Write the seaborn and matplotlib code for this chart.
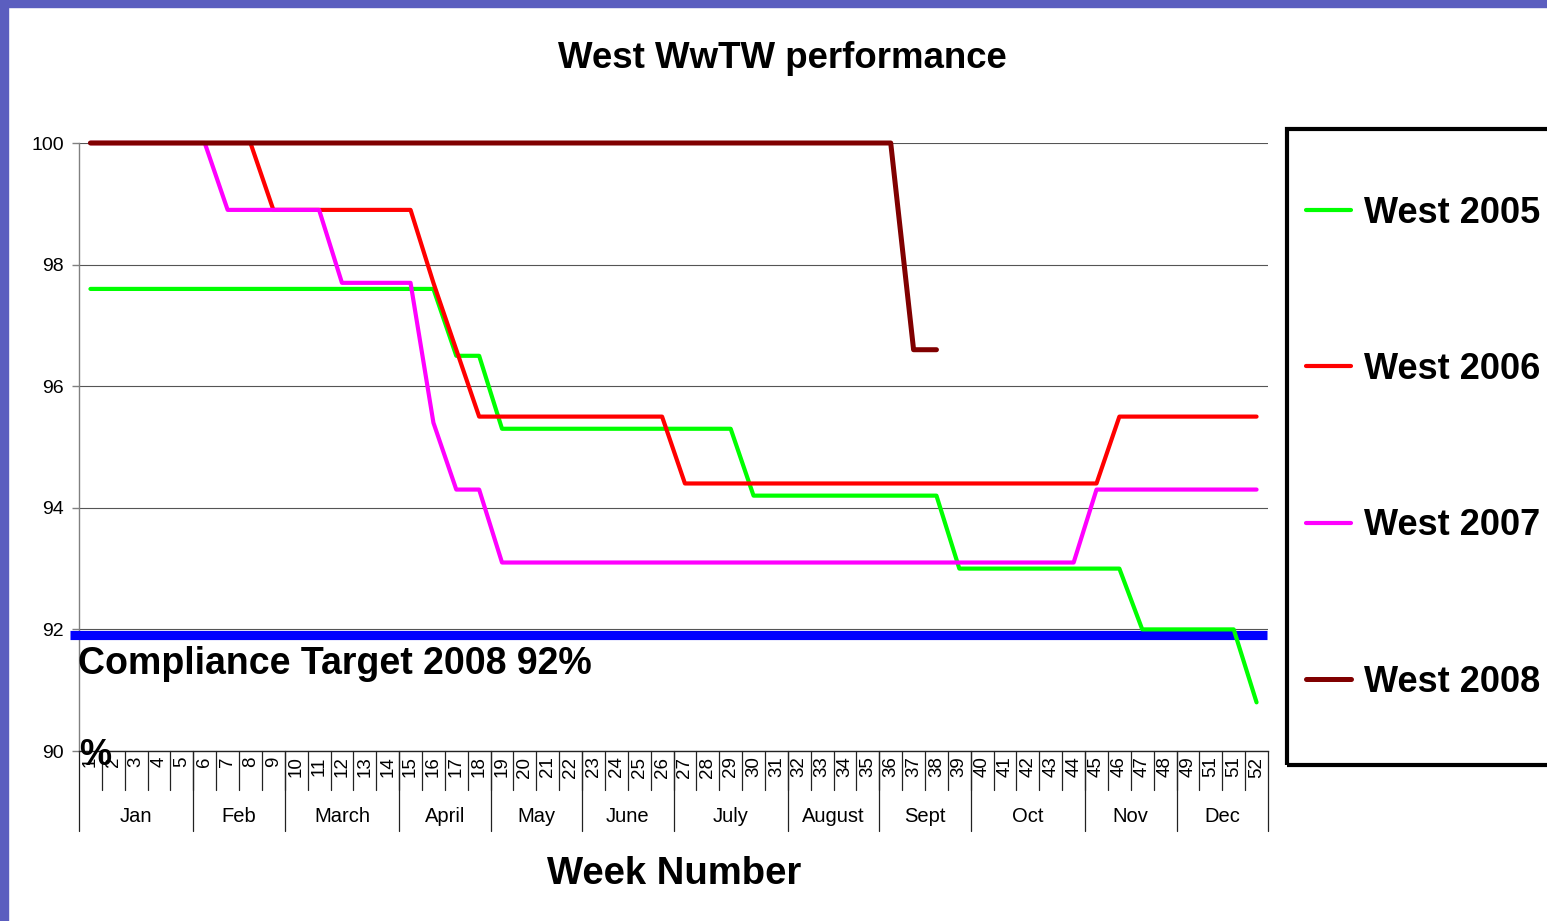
import numpy as np
import pandas as pd
import matplotlib
matplotlib.use("Agg")
import matplotlib.pyplot as plt
import matplotlib.transforms as mtransforms
from matplotlib.patches import Rectangle
import seaborn as sns

# ---------------- data ----------------
weeks = list(range(1, 53))
week_labels = ["1", "2", "3", "4", "5", "6", "7", "8", "9", "10", "11", "12", "13",
               "14", "15", "16", "17", "18", "19", "20", "21", "22", "23", "24", "25",
               "26", "27", "28", "29", "30", "31", "32", "33", "34", "35", "36", "37",
               "38", "39", "40", "41", "42", "43", "44", "45", "46", "47", "48", "49",
               "51", "51", "52"]
months = ["Jan", "Feb", "March", "April", "May", "June", "July", "August",
          "Sept", "Oct", "Nov", "Dec"]
month_weeks = [5, 4, 5, 4, 4, 4, 5, 4, 4, 5, 4, 4]

west_2005 = [97.6, 97.6, 97.6, 97.6, 97.6, 97.6, 97.6, 97.6, 97.6, 97.6, 97.6, 97.6, 97.6,
             97.6, 97.6, 97.6, 96.5, 96.5, 95.3, 95.3, 95.3, 95.3, 95.3, 95.3, 95.3, 95.3,
             95.3, 95.3, 95.3, 94.2, 94.2, 94.2, 94.2, 94.2, 94.2, 94.2, 94.2, 94.2, 93.0,
             93.0, 93.0, 93.0, 93.0, 93.0, 93.0, 93.0, 92.0, 92.0, 92.0, 92.0, 92.0, 90.8]
west_2006 = [100, 100, 100, 100, 100, 100, 100, 100, 98.9, 98.9, 98.9, 98.9, 98.9,
             98.9, 98.9, 97.7, 96.6, 95.5, 95.5, 95.5, 95.5, 95.5, 95.5, 95.5, 95.5, 95.5,
             94.4, 94.4, 94.4, 94.4, 94.4, 94.4, 94.4, 94.4, 94.4, 94.4, 94.4, 94.4, 94.4,
             94.4, 94.4, 94.4, 94.4, 94.4, 94.4, 95.5, 95.5, 95.5, 95.5, 95.5, 95.5, 95.5]
west_2007 = [100, 100, 100, 100, 100, 100, 98.9, 98.9, 98.9, 98.9, 98.9, 97.7, 97.7,
             97.7, 97.7, 95.4, 94.3, 94.3, 93.1, 93.1, 93.1, 93.1, 93.1, 93.1, 93.1, 93.1,
             93.1, 93.1, 93.1, 93.1, 93.1, 93.1, 93.1, 93.1, 93.1, 93.1, 93.1, 93.1, 93.1,
             93.1, 93.1, 93.1, 93.1, 93.1, 94.3, 94.3, 94.3, 94.3, 94.3, 94.3, 94.3, 94.3]
west_2008 = [100, 100, 100, 100, 100, 100, 100, 100, 100, 100, 100, 100, 100,
             100, 100, 100, 100, 100, 100, 100, 100, 100, 100, 100, 100, 100,
             100, 100, 100, 100, 100, 100, 100, 100, 100, 100, 96.6, 96.6]
target_value = 91.90

series_names = ["West 2005", "West 2006", "West 2007", "West 2008"]
series_values = [west_2005, west_2006, west_2007, west_2008]
series_colors = ["#00ff00", "#ff0000", "#ff00ff", "#800000"]

# ---------------- style ----------------
sns.set_style("white")
plt.rcParams["font.family"] = ["Liberation Sans", "DejaVu Sans"]
plt.rcParams["text.color"] = "black"
plt.rcParams["xtick.color"] = "black"
plt.rcParams["ytick.color"] = "black"
plt.rcParams["axes.labelcolor"] = "black"

W, H = 1547, 921
fig = plt.figure(figsize=(W / 100, H / 100), dpi=100)
fig.patch.set_facecolor("white")
ax = fig.add_axes([79 / W, 1 - 751 / H, (1268 - 79) / W, (751 - 143) / H])
ax.set_facecolor("white")

frames = []
for name, vals in zip(series_names, series_values):
    frames.append(pd.DataFrame({"week": weeks[:len(vals)], "value": vals, "series": name}))
df = pd.concat(frames, ignore_index=True)

sns.lineplot(data=df, x="week", y="value", hue="series", hue_order=series_names,
             palette=dict(zip(series_names, series_colors)), estimator=None,
             linewidth=3.0, legend=False, ax=ax, zorder=5)
handles = list(ax.get_lines())[:4]
for ln in handles:
    ln.set_clip_on(False)
    ln.set_solid_capstyle("round")
    ln.set_solid_joinstyle("round")
handles[3].set_linewidth(3.6)

# compliance target line
ax.plot([0.106, 52.45], [target_value, target_value], color="#0000ff", lw=6.6,
        solid_capstyle="butt", clip_on=False, zorder=3)
ax.text(0.47, 91.27, "Compliance Target 2008 92%", fontsize=27, fontweight="bold",
        ha="left", va="baseline", zorder=6)

# axes
ax.set_xlim(0.5, 52.5)
ax.set_ylim(90, 100)
ax.set_yticks([90, 92, 94, 96, 98, 100])
ax.yaxis.grid(True, color="#555555", lw=0.8)
ax.xaxis.grid(False)
ax.set_axisbelow(True)
for s in ["top", "right"]:
    ax.spines[s].set_visible(False)
ax.spines["left"].set_color("#808080")
ax.spines["left"].set_linewidth(1.0)
ax.spines["bottom"].set_color("#222222")
ax.spines["bottom"].set_linewidth(1.0)
ax.tick_params(axis="y", direction="out", length=5, width=1, color="#808080",
               labelcolor="black", labelsize=14, pad=6, left=True)
ax.set_xticks(weeks)
ax.set_xticklabels(week_labels, rotation=90, fontsize=13.5)
ax.tick_params(axis="x", length=0, pad=4, labelcolor="black")
ax.set_xlabel("")
ax.set_ylabel("")

trans = mtransforms.blended_transform_factory(ax.transData, ax.transAxes)
# week separators
for b in np.arange(1.5, 52.5, 1.0):
    ax.plot([b, b], [0, -0.064], transform=trans, color="#222222", lw=0.9,
            clip_on=False, zorder=2)
# month separators + labels
edges = np.concatenate([[0.5], 0.5 + np.cumsum(month_weeks)])
for e in edges:
    ax.plot([e, e], [0, -0.132], transform=trans, color="#222222", lw=0.9,
            clip_on=False, zorder=2)
for m, a, b in zip(months, edges[:-1], edges[1:]):
    ax.text((a + b) / 2, -0.107, m, transform=trans, ha="center", va="center",
            fontsize=14.5)

ax.text(0.0, -0.023, "%", transform=ax.transAxes, ha="left", va="baseline",
        fontsize=26, fontweight="bold", zorder=7)

# titles
fig.text(782 / W, 1 - 68.3 / H, "West WwTW performance", ha="center", va="baseline",
         fontsize=26.4, fontweight="bold")
fig.text(674 / W, 1 - 884.3 / H, "Week Number", ha="center", va="baseline",
         fontsize=27.5, fontweight="bold")

# legend box + legend
fig.add_artist(Rectangle((1287 / W, 1 - 765 / H), 0.3, (765 - 129) / H,
                         transform=fig.transFigure, fill=False, edgecolor="black",
                         lw=3, clip_on=False))
fig.legend(handles, series_names, loc="center left",
           bbox_to_anchor=(1306 / W, 1 - 447.5 / H), bbox_transform=fig.transFigure,
           frameon=False, prop={"weight": "bold", "size": 26}, handlelength=1.25,
           handletextpad=0.35, labelspacing=3.36, borderpad=0, borderaxespad=0)

# purple border
border = "#5b5ebf"
fig.add_artist(Rectangle((0, 1 - 7 / H), 1, 7 / H, transform=fig.transFigure,
                         color=border, zorder=10))
fig.add_artist(Rectangle((0, 0), 8 / W, 1, transform=fig.transFigure,
                         color=border, zorder=10))

fig.savefig("out.png", dpi=100)
